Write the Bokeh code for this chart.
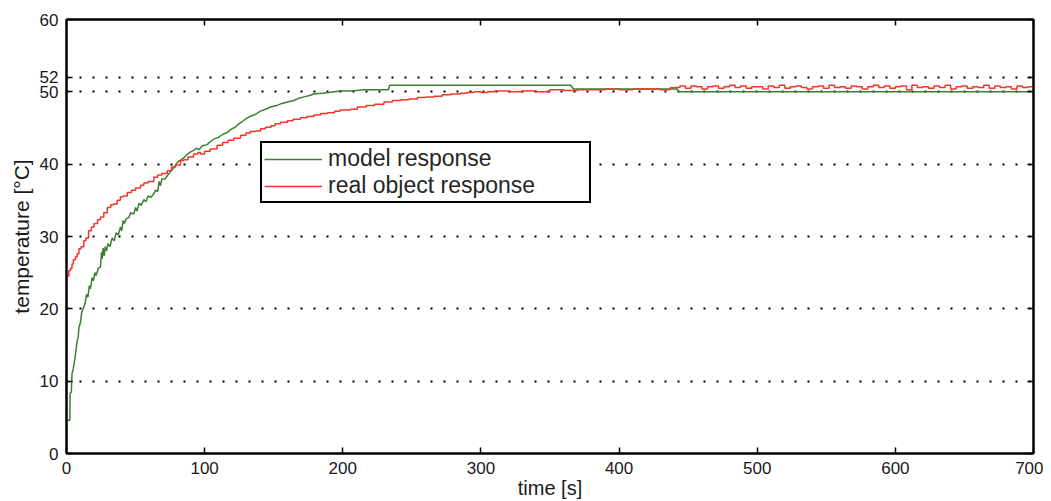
from bokeh.plotting import figure
from bokeh.models import (LinearAxis, FixedTicker, Range1d, Legend, LegendItem)
from bokeh.embed import file_html
from bokeh.resources import INLINE

# ---------------- data ----------------
model_t = [0, 0.5, 2.4, 2.6, 3.5, 4, 5, 6, 7, 7.7, 8.5, 9, 10, 11, 12.5, 13.5, 14.5,
           15.5, 16.5, 17.4, 18.5, 19.5, 20.5, 21.5, 23, 24.6, 25.3, 25.8, 26.5, 27.3,
           28, 29, 30, 31.5, 33, 34.5, 36, 37.5, 39, 40, 41, 42, 43, 45, 46.5, 48.7,
           50, 51, 52.5, 54, 56, 57.5, 59, 61, 63.2, 64.5, 66, 67, 68, 69, 71, 73, 75,
           77.7, 79, 81, 83, 85, 87, 89, 92, 94, 96, 98, 101.8, 104, 107, 110, 113,
           116.4, 119, 122, 125, 128, 130.8, 134, 137, 140, 144, 147.7, 152, 156, 160,
           164.6, 168, 172, 176, 179, 185, 190, 198, 205, 210, 215, 233, 234, 365, 367,
           442, 443, 700]
model_T = [0, 4.6, 4.6, 8.3, 8.5, 11.0, 11.8, 13.0, 14.5, 15.6, 16.0, 17.5, 18.0, 19.5,
           20.2, 20.8, 22.0, 21.6, 23.2, 22.8, 24.3, 23.9, 25.0, 24.6, 25.6, 25.8, 27.8,
           26.9, 28.4, 27.3, 28.6, 28.0, 29.0, 28.6, 29.8, 29.4, 30.5, 30.2, 31.3, 30.8,
           32.2, 31.8, 32.4, 32.6, 33.3, 33.1, 34.0, 33.5, 34.6, 34.3, 35.1, 34.8, 35.6,
           35.4, 35.9, 36.4, 36.2, 37.6, 37.0, 38.0, 37.9, 38.4, 38.9, 39.5, 39.9, 40.4,
           40.6, 40.9, 41.3, 41.6, 41.9, 42.2, 42.0, 42.5, 42.7, 43.1, 43.5, 43.7, 44.1,
           44.4, 44.8, 45.1, 45.6, 46.0, 46.4, 46.7, 46.9, 47.3, 47.6, 47.9, 48.1, 48.4,
           48.6, 48.8, 49.1, 49.3, 49.5, 49.7, 49.8, 49.9, 50.1, 50.1, 50.2, 50.3, 50.3,
           50.9, 50.9, 50.4, 50.4, 50.0, 50.0]

real_t = [0, 0.5, 1.7, 3, 4, 5, 6.5, 7.7, 9, 10.5, 12.5, 14, 16, 18, 20, 22.5, 24.6, 27,
          29.5, 32, 34, 36.7, 39, 41, 44, 47, 50, 53.6, 56, 59, 63.2, 66, 69, 72.9, 76,
          79, 82.5, 85, 88, 92, 95, 97, 100, 104, 109, 113, 117, 121, 126, 130, 133, 137,
          140.5, 144, 148, 151, 155, 160, 164, 169.4, 174, 179, 184, 189, 194, 198, 205.6,
          210.5, 217, 223, 229.8, 236, 242, 248, 254, 260, 266, 272, 278, 285, 290, 295,
          300, 305, 310, 320, 330, 340, 348, 350, 360, 370, 380, 390, 400, 410, 420, 430,
          437,
          440, 444, 448, 452, 456, 460, 464, 468, 472, 476, 480, 484, 488, 492, 496, 500,
          504, 508, 512, 516, 520, 524, 528, 532, 536, 540, 544, 548, 552, 556, 560, 564,
          568, 572, 576, 580, 584, 588, 592, 596, 600, 604, 608, 612, 616, 620, 624, 628,
          632, 636, 640, 644, 648, 652, 656, 660, 664, 668, 672, 676, 680, 684, 688, 692,
          696, 700]
real_T = [23.5, 24.5, 25.3, 25.6, 26.2, 26.8, 27.2, 27.6, 28.3, 28.6, 29.4, 29.8, 30.8,
          31.3, 31.8, 32.3, 32.7, 33.3, 34.0, 34.4, 34.5, 35.0, 35.5, 35.6, 36.1, 36.4,
          36.7, 37.1, 37.4, 37.6, 38.2, 38.5, 38.7, 39.1, 39.6, 39.9, 40.5, 40.6, 41.0,
          41.4, 41.6, 41.4, 41.8, 42.1, 42.6, 43.0, 43.3, 43.6, 44.0, 44.3, 44.5, 44.6,
          44.9, 45.1, 45.3, 45.6, 45.8, 46.0, 46.2, 46.4, 46.6, 46.8, 47.0, 47.1, 47.3,
          47.5, 47.6, 47.9, 48.1, 48.3, 48.6, 48.8, 48.9, 49.0, 49.2, 49.3, 49.4, 49.6,
          49.7, 49.8, 49.9, 50.0, 49.9, 50.0, 50.1, 50.0, 50.1, 50.0, 50.0, 50.3, 50.2,
          50.3, 50.3, 50.4, 50.3, 50.4, 50.4, 50.3, 50.55,
          50.6, 50.8, 50.5, 50.8, 50.7, 50.4, 50.7, 50.8, 50.5, 50.7, 50.9, 50.6, 50.8,
          50.5, 50.7, 50.7, 50.4, 50.8, 50.6, 50.9, 50.5, 50.7, 50.8, 50.6, 50.4, 50.7,
          50.8, 50.5, 50.9, 50.6, 50.7, 50.5, 50.8, 50.7, 50.4, 50.7, 50.9, 50.6, 50.8,
          50.5, 50.7, 50.8, 50.3, 50.9, 50.6, 50.7, 50.5, 50.8, 50.6, 50.9, 50.4, 50.7,
          50.8, 50.5, 50.7, 50.6, 50.9, 50.5, 50.8, 50.6, 50.7, 50.4, 50.8, 50.6, 50.7,
          50.6]

x_ticks = [0, 100, 200, 300, 400, 500, 600, 700]
y_ticks = [0, 10, 20, 30, 40, 50, 52, 60]
series_labels = ["model response", "real object response"]

GREEN = "#3c8032"
RED = "#f2372a"
TXT = "#1a1a1a"
SANS = "'Liberation Sans', Arial"

p = figure(frame_width=967, frame_height=434, output_backend="svg", toolbar_location=None,
           x_range=Range1d(0, 700), y_range=Range1d(0, 60),
           min_border_left=66, min_border_right=10, min_border_top=19,
           min_border_bottom=44)
p.background_fill_color = "white"
p.outline_line_color = "black"
p.outline_line_width = 2

g = p.line(model_t, model_T, line_color=GREEN, line_width=1.5)
r = p.step(real_t, real_T, mode="after", line_color=RED, line_width=1.5)

xa = p.xaxis[0]
xa.ticker = FixedTicker(ticks=x_ticks, minor_ticks=[])
xa.major_label_text_font = SANS
xa.major_label_text_font_size = "17px"
xa.major_label_text_color = TXT
xa.axis_label = "time [s]"
xa.axis_label_text_font = SANS
xa.axis_label_text_font_size = "20px"
xa.axis_label_text_font_style = "normal"
xa.axis_label_text_color = TXT
xa.axis_label_standoff = 0
xa.major_label_standoff = 8
xa.axis_line_width = 2
xa.major_tick_in = 6
xa.major_tick_out = 0
xa.major_tick_line_width = 1.5
xa.minor_tick_line_color = None

ya = p.yaxis[0]
ya.ticker = FixedTicker(ticks=y_ticks, minor_ticks=[])
ya.major_label_text_font = SANS
ya.major_label_text_font_size = "17px"
ya.major_label_text_color = TXT
ya.major_label_orientation = "horizontal"
ya.axis_label = "temperature [°C]"
ya.axis_label_text_font = SANS
ya.axis_label_text_font_size = "21px"
ya.axis_label_text_font_style = "normal"
ya.axis_label_text_color = TXT
ya.axis_label_standoff = 4
ya.major_label_standoff = 8
ya.axis_line_width = 2
ya.major_tick_in = 6
ya.major_tick_out = 0
ya.major_tick_line_width = 1.5
ya.minor_tick_line_color = None

# mirrored (box) axes: ticks only, no labels
top = LinearAxis(ticker=FixedTicker(ticks=x_ticks, minor_ticks=[]),
                 major_label_overrides={t: "" for t in x_ticks},
                 axis_line_width=2, major_tick_in=6, major_tick_out=0,
                 major_tick_line_width=1.5, minor_tick_line_color=None,
                 major_label_standoff=0)
right = LinearAxis(ticker=FixedTicker(ticks=y_ticks, minor_ticks=[]),
                   major_label_overrides={t: "" for t in y_ticks},
                   axis_line_width=2, major_tick_in=6, major_tick_out=0,
                   major_tick_line_width=1.5, minor_tick_line_color=None,
                   major_label_standoff=0)
p.add_layout(top, "above")
p.add_layout(right, "right")

# grid
p.xgrid.grid_line_color = None
p.ygrid.ticker = FixedTicker(ticks=y_ticks)
p.ygrid.grid_line_color = "black"
p.ygrid.grid_line_width = 2
p.ygrid.grid_line_dash = "2 11"

legend = Legend(items=[LegendItem(label=series_labels[0], renderers=[g]),
                       LegendItem(label=series_labels[1], renderers=[r])],
                location=(194, 250))
legend.label_text_font = SANS
legend.label_text_font_size = "23px"
legend.label_text_color = "#262626"
legend.glyph_width = 58
legend.glyph_height = 20
legend.label_height = 20
legend.label_width = 259
legend.label_standoff = 6
legend.spacing = 0
legend.padding = 2
legend.margin = 0
legend.border_line_color = "black"
legend.border_line_alpha = 1
legend.border_line_width = 2
legend.background_fill_alpha = 1
p.add_layout(legend, "center")

open("out.html", "w").write(file_html(p, INLINE))
